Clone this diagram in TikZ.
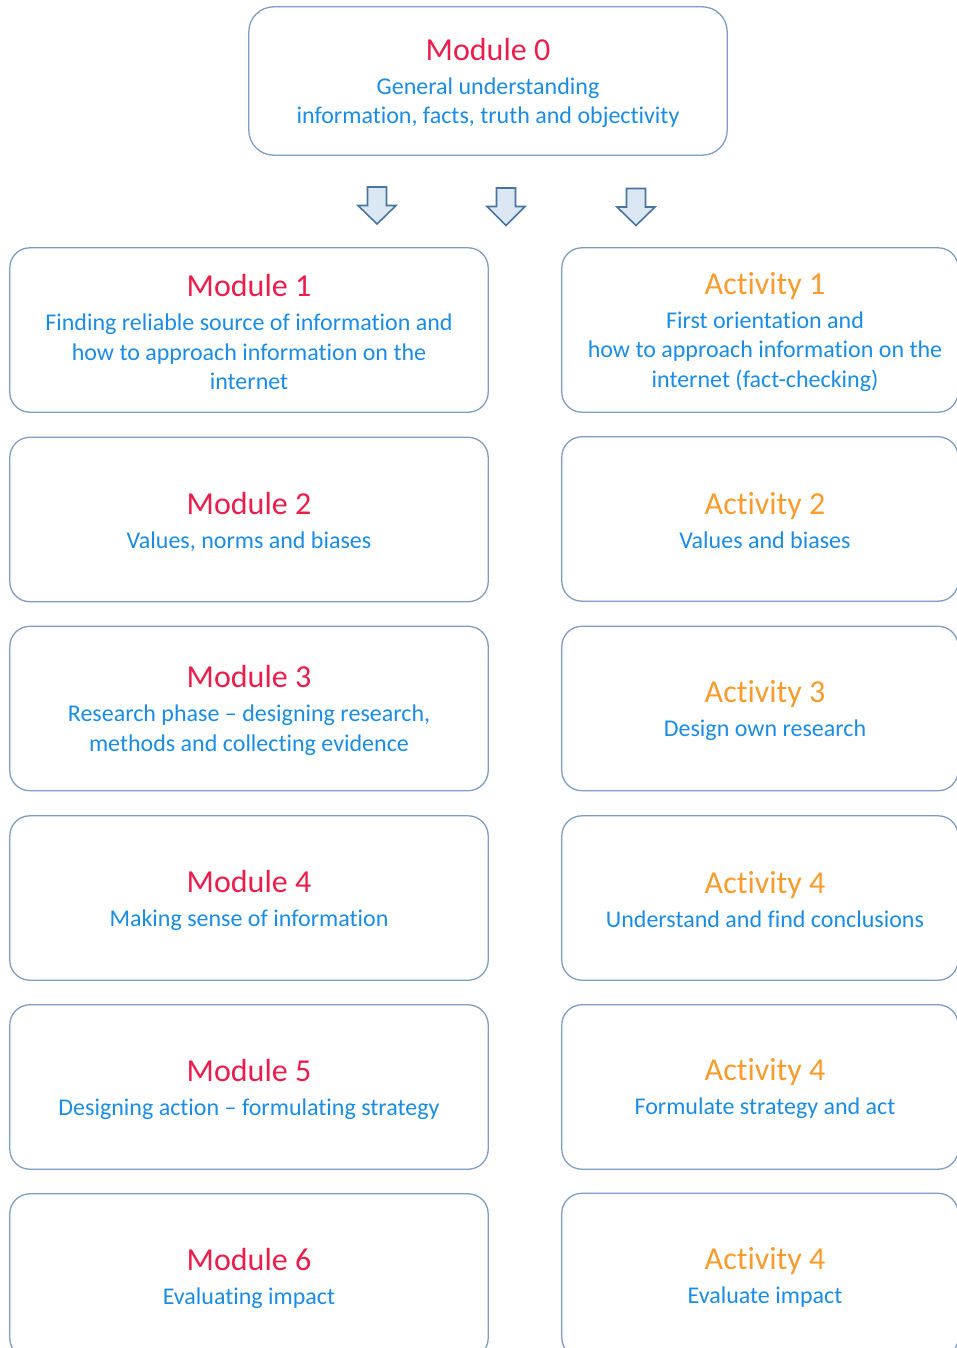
\documentclass[tikz,border=0pt]{standalone}
\usepackage{fontspec}
\setmainfont[Ligatures={NoCommon}]{Carlito}
\definecolor{tred}{HTML}{EC1C4B}
\definecolor{torange}{HTML}{F99B2D}
\definecolor{tblue}{HTML}{1A8CE6}
\definecolor{bordc}{HTML}{7F9DC3}
\definecolor{arrfill}{HTML}{DCE7F4}
\definecolor{arrline}{HTML}{4A74A0}
\newcommand{\modt}[1]{{\fontsize{32}{36}\selectfont\color{tred}#1}\\[4.5pt]}
\newcommand{\actt}[1]{{\fontsize{32}{36}\selectfont\color{torange}#1}\\[4.5pt]}
\tikzset{
  box/.style={minimum width=478pt, minimum height=164pt, align=center, inner sep=0pt,
    text=tblue, font=\fontsize{24}{29.5}\selectfont},
  rbox/.style={box, minimum width=406pt},
  frame/.style={draw=bordc, line width=1.3pt, rounded corners=20pt},
  blockarrow/.style={draw=arrline, fill=arrfill, line width=1.6pt, line join=miter}
}
\begin{document}
\begin{tikzpicture}[x=1pt,y=-1pt]
\useasboundingbox (0,0) rectangle (957,1348);
% top module
\node[box, minimum height=148pt] (m0) at (488,83)
  {\modt{Module 0}General understanding\\information, facts, truth and objectivity};
\draw[frame, rounded corners=25pt] ([yshift=2pt]m0.north west) rectangle ([yshift=2pt]m0.south east);
% block arrows
\foreach \cx/\ty/\tip [count=\i] in {377/187/224, 506/188/225.5, 636/188.5/225.5}{
  \draw[blockarrow] (\cx-9.5,\ty) -- (\cx+9.5,\ty) -- (\cx+9.5,\ty+18.5) -- (\cx+19,\ty+18.5)
    -- (\cx,\tip) -- (\cx-19,\ty+18.5) -- (\cx-9.5,\ty+18.5) -- cycle;
}
% left column
\node[box] (m1) at (249,332) {\modt{Module 1}Finding reliable source of information and\\how to approach information on the\\internet};
\node[box] (m2) at (249,521.5) {\modt{Module 2}Values, norms and biases};
\node[box] (m3) at (249,710.5) {\modt{Module 3}Research phase -- designing research,\\methods and collecting evidence};
\node[box] (m4) at (249,900) {\modt{Module 4}Making sense of information};
\node[box] (m5) at (249,1089) {\modt{Module 5}Designing action -- formulating strategy};
\node[box] (m6) at (249,1278) {\modt{Module 6}Evaluating impact};
\foreach \n in {m1,m2,m3,m4,m5,m6}{
  \draw[frame] ([yshift=2pt]\n.north west) rectangle ([yshift=2pt]\n.south east);
}
% right column (text centred at 765, frame clipped at the right edge)
\node[rbox] (a1) at (765,332) {\actt{Activity 1}First orientation and\\how to approach information on the\\internet (fact-checking)};
\node[rbox] (a2) at (765,521) {\actt{Activity 2}Values and biases};
\node[rbox] (a3) at (765,710.5) {\actt{Activity 3}Design own research};
\node[rbox] (a4) at (765,900) {\actt{Activity 4}Understand and find conclusions};
\node[rbox] (a5) at (765,1089) {\actt{Activity 4}Formulate strategy and act};
\node[rbox] (a6) at (765,1277.5) {\actt{Activity 4}Evaluate impact};
\foreach \n in {a1,a2,a3,a4,a5,a6}{
  \draw[frame] ([yshift=2pt]\n.north west) rectangle ([xshift=-10pt,yshift=2pt]\n.south east);
}
\end{tikzpicture}
\end{document}
